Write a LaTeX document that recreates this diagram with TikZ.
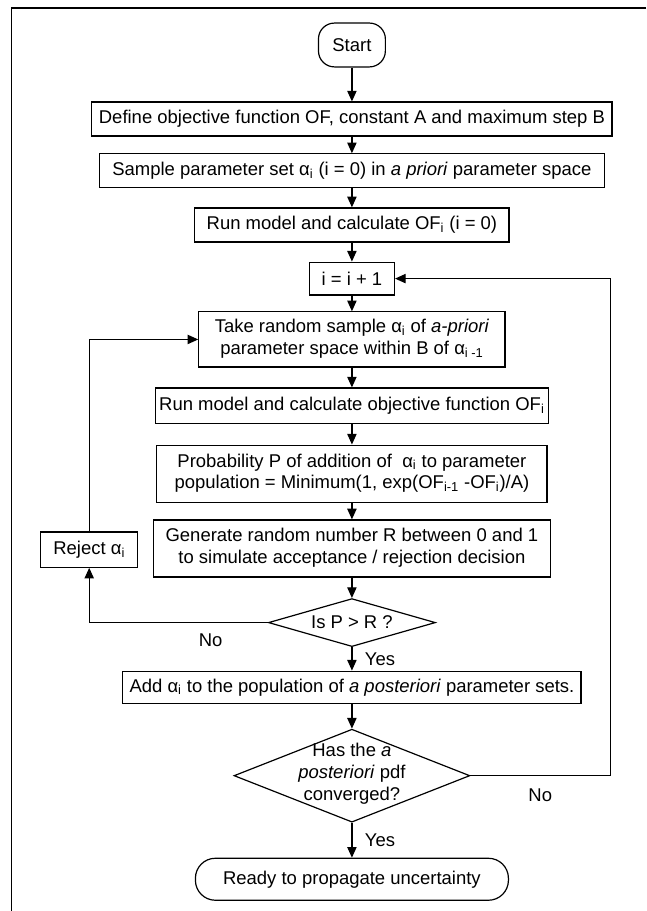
\documentclass[tikz,border=0pt]{standalone}
\usepackage{fontspec}
\setmainfont{Liberation Sans}
\usetikzlibrary{shapes.geometric, arrows.meta}

\newcommand{\flowfont}{\fontsize{13.9}{16.5}\selectfont}
\newcommand{\alphasub}[1]{α\textsubscript{#1}}
\newcommand{\OFsub}[1]{OF\textsubscript{#1}}

\begin{document}
\begin{tikzpicture}[
    box/.style={rectangle, draw, line width=0.9pt, text centered, font=\flowfont, inner sep=3pt, minimum height=0.9cm},
    terminal/.style={rectangle, draw, line width=0.9pt, text centered, font=\flowfont, rounded corners=12pt},
    decision/.style={diamond, draw, line width=0.9pt, text centered, font=\flowfont, inner sep=0pt},
    edgetext/.style={font=\flowfont},
    arrow/.style={->, >={Triangle[length=8pt, width=7pt]}, line width=0.9pt}
]

\useasboundingbox (-9.31, 0) rectangle (7.78, -24.10);

% Frame (top and left edges only)
\draw[line width=0.9pt] (7.78, -0.21) -- (-9.00, -0.21) -- (-9.00, -24.10);

% Start
\node[terminal, minimum width=1.77cm, minimum height=1.16cm] (start) at (0, -1.19) {Start};

% Set-up steps
\node[box, minimum width=13.76cm] (define) at (0, -3.15) {Define objective function OF, constant A and maximum step B};
\node[box, minimum width=13.36cm] (sample) at (0, -4.52) {Sample parameter set \alphasub{i} (i = 0) in \textit{a priori} parameter space};
\node[box, minimum width=8.31cm] (runzero) at (0, -5.95) {Run model and calculate \OFsub{i} (i = 0)};
\node[box, minimum width=2.25cm, minimum height=0.87cm] (incr) at (0, -7.37) {i = i + 1};

% Sampling loop
\node[box, minimum width=8.10cm, minimum height=1.46cm] (take) at (0, -8.98) {
\begin{tabular}{c}
Take random sample \alphasub{i} of \textit{a-priori} \\
parameter space within B of \alphasub{i -1}
\end{tabular}
};
\node[box, minimum width=10.37cm, minimum height=0.93cm] (runof) at (0, -10.73) {Run model and calculate objective function \OFsub{i}};
\node[box, minimum width=10.32cm, minimum height=1.51cm] (prob) at (0, -12.53) {
\begin{tabular}{c}
Probability P of addition of \ \alphasub{i} to parameter \\
population = Minimum(1, exp(\OFsub{i-1} -\OFsub{i})/A)
\end{tabular}
};
\node[box, minimum width=10.45cm, minimum height=1.51cm] (generate) at (0, -14.51) {
\begin{tabular}{c}
Generate random number R between 0 and 1 \\
to simulate acceptance / rejection decision
\end{tabular}
};
\node[box, minimum width=2.57cm, minimum height=0.93cm] (reject) at (-6.95, -14.54) {Reject \alphasub{i}};
\node[decision, shape aspect=3.5, minimum width=4.42cm, minimum height=1.27cm] (decide) at (0, -16.47) {Is P > R ?};

% Acceptance and convergence
\node[box, minimum width=12.12cm, minimum height=0.85cm] (add) at (0, -18.18) {Add \alphasub{i} to the population of \textit{a posteriori} parameter sets.};
\node[decision, shape aspect=2.5, minimum width=6.24cm, minimum height=2.46cm] (converge) at (0, -20.52) {\raisebox{-4.5pt}{\smash{%
\begin{tabular}{c}
Has the \textit{a} \\
\textit{posteriori} pdf \\
converged?
\end{tabular}}}};
\node[terminal, rounded corners=15pt, minimum width=8.28cm, minimum height=1.11cm] (ready) at (0, -23.26) {Ready to propagate uncertainty};

\coordinate (rail) at (6.83, 0);

% Arrows down the main column
\draw[arrow] (start) -- (define);
\draw[arrow] (define) -- (sample);
\draw[arrow] (sample) -- (runzero);
\draw[arrow] (runzero) -- (incr);
\draw[arrow] (incr) -- (take);
\draw[arrow] (take) -- (runof);
\draw[arrow] (runof) -- (prob);
\draw[arrow] (prob) -- (generate);
\draw[arrow] (generate) -- (decide);
\draw[arrow] (decide) -- node[edgetext, right, xshift=6pt] {Yes} (add);
\draw[arrow] (add) -- (converge);
\draw[arrow] (converge) -- node[edgetext, right, xshift=6pt] {Yes} (ready);

% Rejection loop
\draw[arrow] (decide.west) -- node[edgetext, below=5pt, pos=0.32] {No} (decide.west -| reject) -- (reject.south);
\draw[arrow] (reject.north) |- (take.west);

% Convergence loop
\draw[arrow] (converge.east) -- node[edgetext, below=6pt] {No} (converge.east -| rail) |- (incr.east);

\end{tikzpicture}
\end{document}
